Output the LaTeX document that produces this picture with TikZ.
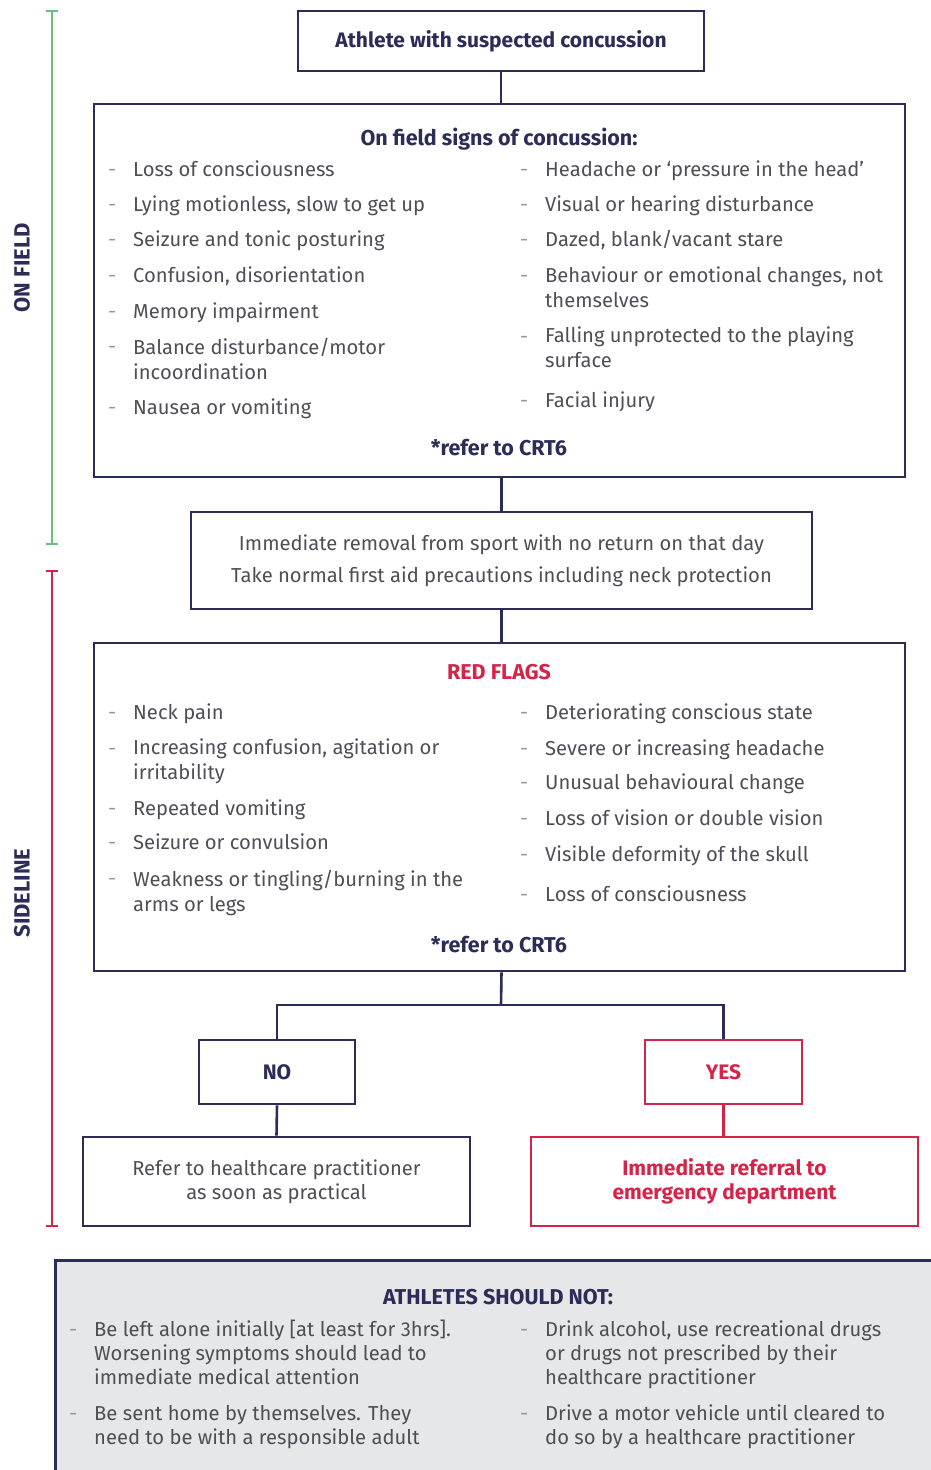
\documentclass[tikz,border=0pt]{standalone}
\usepackage{fontspec}
\setmainfont{Fira Sans}
\usetikzlibrary{arrows.meta,positioning}
\definecolor{navyCS}{RGB}{43,44,88}
\definecolor{redCS}{RGB}{214,35,74}
\definecolor{greenCS}{RGB}{108,192,122}
\definecolor{textCS}{RGB}{78,78,86}
\definecolor{dashCS}{RGB}{150,150,156}
\definecolor{fillCS}{RGB}{230,231,233}
\tikzset{
  box/.style={draw=navyCS,line width=2.6pt,inner sep=0pt,align=center,
    font=\fontsize{20.2}{24}\selectfont,text=textCS},
  redbox/.style={box,draw=redCS,text=redCS},
  bold/.style={font=\fontsize{21}{24}\selectfont\bfseries},
  item/.style={font=\fontsize{20.2}{25}\selectfont,text=textCS,inner sep=0pt,
    anchor=base west,align=left},
  bullet/.style={item,text=dashCS},
  hdr/.style={font=\fontsize{21.5}{25}\selectfont\bfseries,text=navyCS,
    inner sep=0pt,anchor=base},
  sidelbl/.style={font=\fontsize{22}{25}\selectfont\bfseries,text=navyCS,
    inner sep=0pt,rotate=90},
  link/.style={draw=navyCS,line width=2.6pt},
  sidebar/.style={line width=2.4pt,{Bar[width=12pt]}-{Bar[width=12pt]}},
}
\begin{document}
\begin{tikzpicture}[x=1pt,y=-1pt]
\useasboundingbox (0,0) rectangle (931,1470);
\clip (0,0) rectangle (931,1470);

% side ranges
\coordinate (of-top) at (52,10);
\coordinate (of-bot) at (52,545);
\coordinate (sl-top) at (52,570);
\coordinate (sl-bot) at (52,1227);
\draw[sidebar,greenCS] (of-top) -- (of-bot);
\draw[sidebar,redCS] (sl-top) -- (sl-bot);
\node[sidelbl] (onfield) at (22,268) {ON FIELD};
\node[sidelbl] (sideline) at (22,893) {SIDELINE};

% boxes
\node[box,bold,text=navyCS,minimum width=406pt,minimum height=60pt]
  (start) at (501,41) {Athlete with suspected concussion};
\node[box,minimum width=811pt,minimum height=373pt] (signs) at (499.5,290.5) {};
\node[box,minimum width=621pt,minimum height=97pt,font=\fontsize{20.2}{32}\selectfont]
  (removal) at (501.5,560.5) {Immediate removal from sport with no return on that day\\
  Take normal first aid precautions including neck protection};
\node[box,minimum width=811pt,minimum height=328pt] (flags) at (499.5,807) {};
\node[box,bold,text=navyCS,minimum width=156pt,minimum height=64pt]
  (no) at (277,1072) {NO};
\node[redbox,bold,minimum width=157pt,minimum height=64pt]
  (yes) at (723.5,1072) {YES};
\node[box,minimum width=387pt,minimum height=89pt] (refer) at (276.5,1181.5)
  {Refer to healthcare practitioner\\as soon as practical};
\node[redbox,bold,minimum width=387pt,minimum height=89pt]
  (emerg) at (724.5,1181.5) {Immediate referral to\\emergency department};
\node[box,fill=fillCS,anchor=north west,minimum width=920pt,minimum height=260pt]
  (shouldnot) at (54,1259) {};

% connectors
\coordinate (split) at (501,1005);
\draw[link] (start.south) -- (start.south |- signs.north);
\draw[link] (removal.north |- signs.south) -- (removal.north);
\draw[link] (removal.south) -- (removal.south |- flags.north);
\draw[link] (removal.south |- flags.south) -- (split);
\draw[link] (no.north) |- (split) -| (yes.north);
\draw[link] (no.south) -- (refer.north);
\draw[link,draw=redCS] (yes.south) -- (yes.south |- emerg.north);

% on field signs
\node[hdr] (signs-t) at (499,145) {On field signs of concussion:};
\foreach \y/\b/\t [count=\i] in {176/176/{Loss of consciousness},
    211/211/{Lying motionless, slow to get up},
    246/246/{Seizure and tonic posturing},
    282/282/{Confusion, disorientation},
    318/318/{Memory impairment},
    353/379/{Balance disturbance/motor\\incoordination},
    414/414/{Nausea or vomiting}} {
  \node[bullet] (sl-d\i) at (108,\y) {-};
  \node[item] (sl-\i) at (133,\b) {\t};
}
\foreach \y/\b/\t [count=\i] in {176/176/{Headache or ‘pressure in the head’},
    211/211/{Visual or hearing disturbance},
    246/246/{Dazed, blank/vacant stare},
    282/307/{Behaviour or emotional changes, not\\themselves},
    343/367/{Falling unprotected to the playing\\surface},
    407/407/{Facial injury}} {
  \node[bullet] (sr-d\i) at (520,\y) {-};
  \node[item] (sr-\i) at (545,\b) {\t};
}
\node[hdr] (signs-ref) at (499,455) {*refer to CRT6};

% red flags
\node[hdr,text=redCS] (flags-t) at (499,679) {RED FLAGS};
\foreach \y/\b/\t [count=\i] in {719/719/{Neck pain},
    755/779/{Increasing confusion, agitation or\\irritability},
    815/815/{Repeated vomiting},
    849/849/{Seizure or convulsion},
    885/911/{Weakness or tingling/burning in the\\arms or legs}} {
  \node[bullet] (fl-d\i) at (108,\y) {-};
  \node[item] (fl-\i) at (133,\b) {\t};
}
\foreach \y/\b/\t [count=\i] in {719/719/{Deteriorating conscious state},
    755/755/{Severe or increasing headache},
    789/789/{Unusual behavioural change},
    825/825/{Loss of vision or double vision},
    861/861/{Visible deformity of the skull},
    901/901/{Loss of consciousness}} {
  \node[bullet] (fr-d\i) at (520,\y) {-};
  \node[item] (fr-\i) at (545,\b) {\t};
}
\node[hdr] (flags-ref) at (499,952) {*refer to CRT6};

% athletes should not
\node[hdr] (not-t) at (498,1304) {ATHLETES SHOULD NOT:};
\foreach \y/\b/\t [count=\i] in {1336/1384/{Be left alone initially [at least for 3hrs].\\Worsening symptoms should lead to\\immediate medical attention},
    1420/1444/{Be sent home by themselves. They\\need to be with a responsible adult}} {
  \node[bullet,font=\fontsize{20.2}{24}\selectfont] (nl-d\i) at (69,\y) {-};
  \node[item,font=\fontsize{20.2}{24}\selectfont] (nl-\i) at (94,\b) {\t};
}
\foreach \y/\b/\t [count=\i] in {1336/1384/{Drink alcohol, use recreational drugs\\or drugs not prescribed by their\\healthcare practitioner},
    1420/1444/{Drive a motor vehicle until cleared to\\do so by a healthcare practitioner}} {
  \node[bullet,font=\fontsize{20.2}{24}\selectfont] (nr-d\i) at (520,\y) {-};
  \node[item,font=\fontsize{20.2}{24}\selectfont] (nr-\i) at (545,\b) {\t};
}
\end{tikzpicture}
\end{document}
